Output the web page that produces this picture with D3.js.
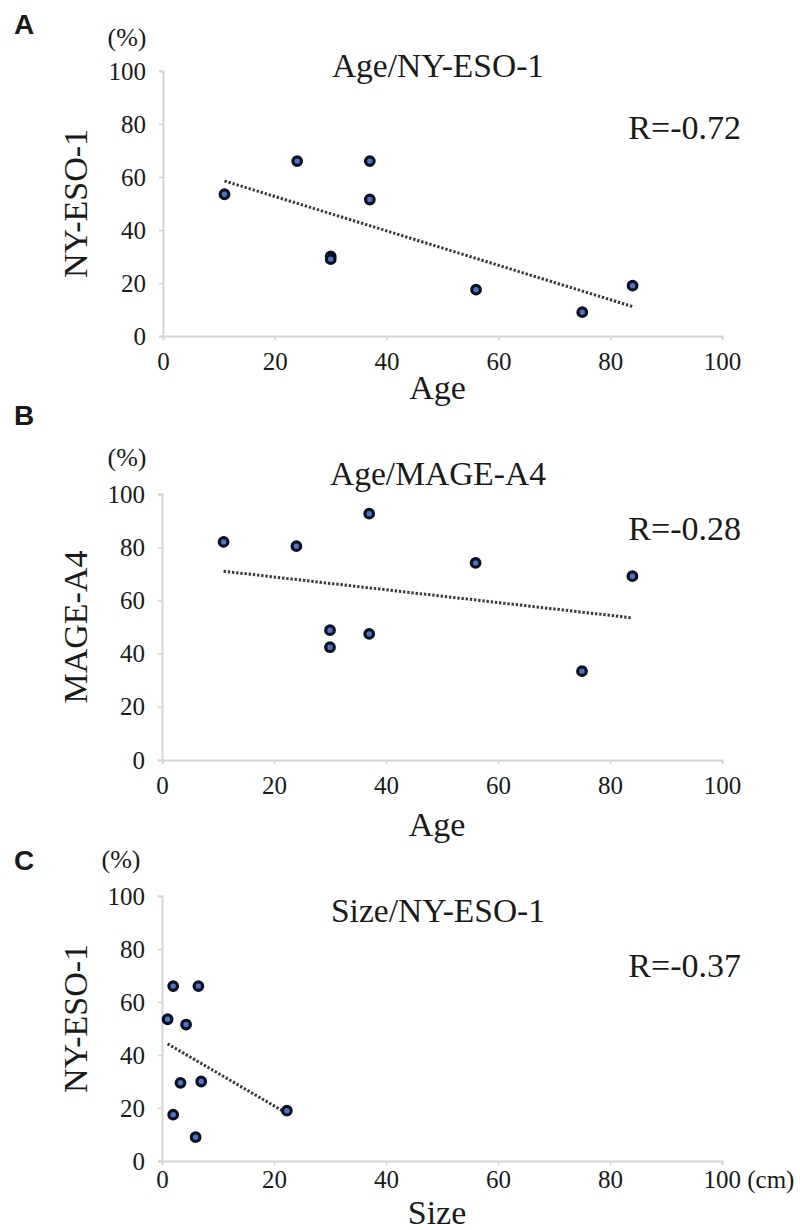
<!DOCTYPE html>
<html>
<head>
<meta charset="utf-8">
<script src="https://cdn.jsdelivr.net/npm/d3@7/dist/d3.min.js"></script>
<style>
  html, body { margin: 0; padding: 0; background: #fff; }
  svg text { font-family: "Liberation Serif", "Times New Roman", serif; fill: #1a1a1a; }
</style>
</head>
<body>
<svg id="chart" width="800" height="1230"></svg>
<script>
// ---------- data ----------
const panelLetters = ["A", "B", "C"];
const panelTitles = ["Age/NY-ESO-1", "Age/MAGE-A4", "Size/NY-ESO-1"];
const rLabels = ["R=-0.72", "R=-0.28", "R=-0.37"];
const xTitles = ["Age", "Age", "Size"];
const yTitles = ["NY-ESO-1", "MAGE-A4", "NY-ESO-1"];
const tickValues = [0, 20, 40, 60, 80, 100];

const ageA = [11, 24, 30, 30, 37, 37, 56, 75, 84];
const nyEsoA = [53.5, 66, 30, 29, 66, 51.5, 17.5, 9, 19];

const ageB = [11, 24, 30, 30, 37, 37, 56, 75, 84];
const mageB = [82, 80.4, 48.8, 42.4, 92.6, 47.4, 74.1, 33.4, 69.1];

const sizeC = [2, 6.5, 1, 4.3, 3.3, 7, 2, 6, 22.3];
const nyEsoC = [66, 66, 53.5, 51.5, 29.5, 30, 17.5, 9, 19];

// ---------- layout ----------
const layouts = [
  { left: 163, right: 722, top: 71,  bottom: 336,  letterY: 34,  pctY: 46,  titleY: 77,  rY: 139, xTitleY: 399, yTitleX: 87, yTitleShift: 0, xPad: 12, xs: ageA,  ys: nyEsoA },
  { left: 162, right: 722, top: 494, bottom: 760,  letterY: 425, pctY: 466, titleY: 485, rY: 540, xTitleY: 836, yTitleX: 87, yTitleShift: 0, xPad: 12, xs: ageB,  ys: mageB },
  { left: 162, right: 722, top: 896, bottom: 1161, letterY: 870, pctY: 868, titleY: 922, rY: 977, xTitleY: 1224, yTitleX: 87, yTitleShift: -10, xPad: 5, xs: sizeC, ys: nyEsoC }
];

const svg = d3.select("#chart");
const serif = '"Liberation Serif", "Times New Roman", serif';

layouts.forEach((L, i) => {
  const g = svg.append("g");
  const x = d3.scaleLinear().domain([0, 100]).range([L.left, L.right]);
  const y = d3.scaleLinear().domain([0, 100]).range([L.bottom, L.top]);

  // axes
  const yAxis = d3.axisLeft(y).tickValues(tickValues).tickSize(4).tickPadding(13).tickFormat(d3.format("d"));
  const xAxis = d3.axisBottom(x).tickValues(tickValues).tickSize(4).tickPadding(L.xPad).tickFormat(d3.format("d"));

  const gy = g.append("g").attr("transform", `translate(${L.left},0)`).call(yAxis);
  const gx = g.append("g").attr("transform", `translate(0,${L.bottom})`).call(xAxis);
  [gx, gy].forEach(a => {
    a.attr("font-family", serif).attr("font-size", 25);
    a.select(".domain").attr("stroke", "#d4d4d4").attr("stroke-width", 2);
    a.selectAll(".tick line").attr("stroke", "#d4d4d4").attr("stroke-width", 1.5);
    a.selectAll(".tick text").attr("font-family", serif).attr("font-size", 25).attr("fill", "#1a1a1a");
  });

  if (i === 2) {
    gx.selectAll(".tick text").filter(d => d === 100).text("100 (cm)").attr("text-anchor", "start").attr("x", -19);
  }

  // trend line (least squares)
  const n = L.xs.length;
  const mx = d3.mean(L.xs), my = d3.mean(L.ys);
  let sxy = 0, sxx = 0;
  for (let k = 0; k < n; k++) { sxy += (L.xs[k] - mx) * (L.ys[k] - my); sxx += (L.xs[k] - mx) ** 2; }
  const slope = sxy / sxx, icpt = my - slope * mx;
  const x0 = d3.min(L.xs), x1 = d3.max(L.xs);
  g.append("line")
    .attr("x1", x(x0)).attr("y1", y(icpt + slope * x0))
    .attr("x2", x(x1)).attr("y2", y(icpt + slope * x1))
    .attr("stroke", "#3c3c3c").attr("stroke-width", 3).attr("stroke-dasharray", "2.4,1.8");

  // points
  g.selectAll("circle").data(L.xs.map((v, k) => [v, L.ys[k]])).join("circle")
    .attr("cx", d => x(d[0])).attr("cy", d => y(d[1])).attr("r", 4.3)
    .attr("fill", "#5273c4").attr("stroke", "#0b1124").attr("stroke-width", 3.2);

  // texts
  g.append("text").attr("x", 14).attr("y", L.letterY).text(panelLetters[i])
    .style("font-family", '"Liberation Sans", Arial, sans-serif').style("font-weight", "bold").style("font-size", "28px").attr("fill", "#000");
  g.append("text").attr("x", i === 2 ? 121 : 127).attr("y", L.pctY).attr("text-anchor", "middle").text("(%)").style("font-size", "26px");
  g.append("text").attr("x", 438).attr("y", L.titleY).attr("text-anchor", "middle").text(panelTitles[i]).style("font-size", "33.5px");
  g.append("text").attr("x", 741).attr("y", L.rY).attr("text-anchor", "end").text(rLabels[i]).style("font-size", "34px");
  g.append("text").attr("x", (L.left + L.right) / 2 - 5).attr("y", L.xTitleY).attr("text-anchor", "middle").text(xTitles[i]).style("font-size", "34px");
  g.append("text")
    .attr("transform", `translate(${L.yTitleX},${(L.top + L.bottom) / 2 + L.yTitleShift}) rotate(-90)`)
    .attr("text-anchor", "middle").text(yTitles[i]).style("font-size", "34px");
});
</script>
</body>
</html>
